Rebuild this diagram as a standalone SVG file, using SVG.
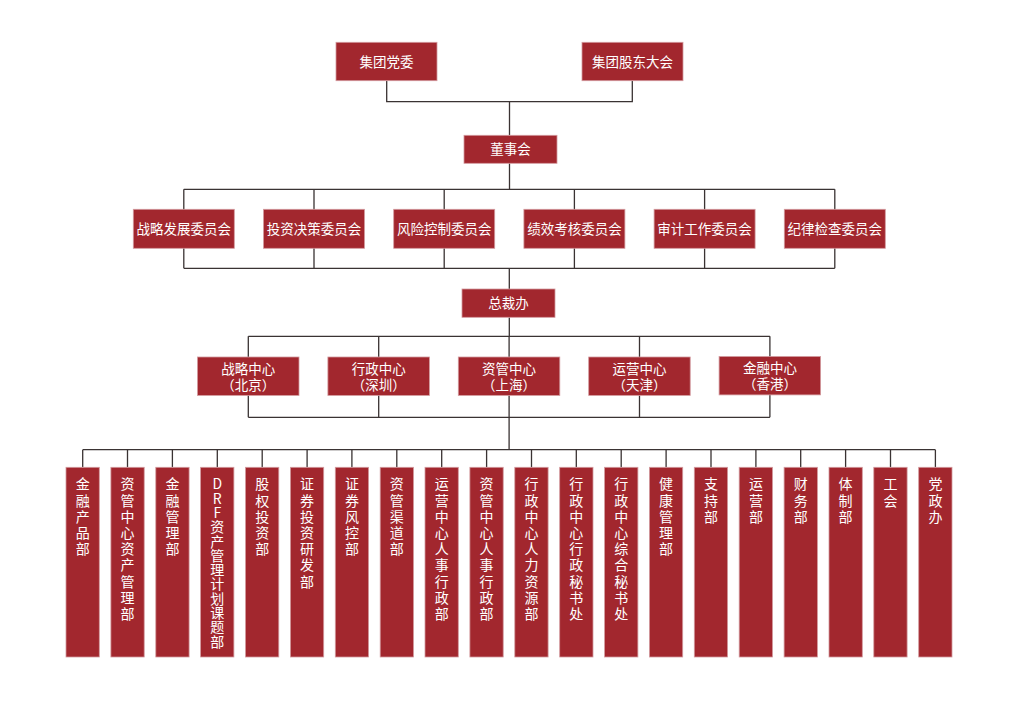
<svg xmlns="http://www.w3.org/2000/svg" width="1024" height="724" viewBox="0 0 1024 724">
<style>
.box{fill:#a2272e;stroke:#d39a9e;stroke-width:0.8}
.t{font-family:"Noto Sans CJK SC","Noto Sans",sans-serif;font-size:13.5px;fill:#ffffff;text-anchor:middle}
.d{font-family:"Noto Sans CJK SC","Noto Sans",sans-serif;font-size:14px;fill:#ffffff;writing-mode:vertical-rl;text-orientation:upright;letter-spacing:2.2px}
.drf{letter-spacing:0.3px}
.c{fill:none;stroke:#3a3333;stroke-width:1.3}
</style>
<rect width="1024" height="724" fill="#ffffff"/>
<g id="connectors" class="c">
<path d="M386.7,80.7V101.7H632.3V80.7M509.5,101.7V135.3"/>
<path d="M509.5,163.3V189.3M183.8,189.3H834.8M183.8,268.3H834.8M183.8,189.3V268.3M314,189.3V268.3M444.2,189.3V268.3M574.4,189.3V268.3M704.6,189.3V268.3M834.8,189.3V268.3"/>
<path d="M509.3,268.3V289M509.3,317.3V336.3M248.3,336.3H769.9M248.3,417.3H769.9M248.3,336.3V417.3M378.7,336.3V417.3M509.1,336.3V417.3M639.5,336.3V417.3M769.9,336.3V417.3"/>
<path d="M509.1,417.3V449.7M82.7,449.7H935.4"/>
<path d="M82.7,449.7V467.3M127.5,449.7V467.3M172.4,449.7V467.3M217.3,449.7V467.3M262.2,449.7V467.3M307.1,449.7V467.3M351.9,449.7V467.3M396.8,449.7V467.3M441.7,449.7V467.3M486.6,449.7V467.3M531.5,449.7V467.3M576.3,449.7V467.3M621.2,449.7V467.3M666.1,449.7V467.3M711,449.7V467.3M755.9,449.7V467.3M800.7,449.7V467.3M845.6,449.7V467.3M890.5,449.7V467.3M935.4,449.7V467.3"/>
</g>
<g id="n-dangwei"><rect class="box" x="336" y="42.3" width="101" height="38.4"/><text class="t" x="386.5" y="66.5">集团党委</text></g>
<g id="n-gudong"><rect class="box" x="582" y="42.3" width="101" height="38.4"/><text class="t" x="632.5" y="66.5">集团股东大会</text></g>
<g id="n-dongshihui"><rect class="box" x="464" y="135.3" width="93" height="28"/><text class="t" x="510.5" y="154">董事会</text></g>
<g id="n-zhanlue-wy"><rect class="box" x="133.3" y="209.3" width="101" height="39"/><text class="t" x="183.8" y="233.7">战略发展委员会</text></g>
<g id="n-touzi-wy"><rect class="box" x="263.5" y="209.3" width="101" height="39"/><text class="t" x="314" y="233.7">投资决策委员会</text></g>
<g id="n-fengxian-wy"><rect class="box" x="393.7" y="209.3" width="101" height="39"/><text class="t" x="444.2" y="233.7">风险控制委员会</text></g>
<g id="n-jixiao-wy"><rect class="box" x="523.9" y="209.3" width="101" height="39"/><text class="t" x="574.4" y="233.7">绩效考核委员会</text></g>
<g id="n-shenji-wy"><rect class="box" x="654.1" y="209.3" width="101" height="39"/><text class="t" x="704.6" y="233.7">审计工作委员会</text></g>
<g id="n-jilv-wy"><rect class="box" x="784.3" y="209.3" width="101" height="39"/><text class="t" x="834.8" y="233.7">纪律检查委员会</text></g>
<g id="n-zongcaiban"><rect class="box" x="462" y="289" width="93" height="28.3"/><text class="t" x="508.5" y="307.6">总裁办</text></g>
<g id="n-zhanlue-zx"><rect class="box" x="197.5" y="357" width="101.5" height="38.4"/><text class="t" x="248.3" y="373.8">战略中心<tspan x="248.3" dy="16">（北京）</tspan></text></g>
<g id="n-xingzheng-zx"><rect class="box" x="327.9" y="357" width="101.5" height="38.4"/><text class="t" x="378.7" y="373.8">行政中心<tspan x="378.7" dy="16">（深圳）</tspan></text></g>
<g id="n-ziguan-zx"><rect class="box" x="458.3" y="357" width="101.5" height="38.4"/><text class="t" x="509.1" y="373.8">资管中心<tspan x="509.1" dy="16">（上海）</tspan></text></g>
<g id="n-yunying-zx"><rect class="box" x="588.7" y="357" width="101.5" height="38.4"/><text class="t" x="639.5" y="373.8">运营中心<tspan x="639.5" dy="16">（天津）</tspan></text></g>
<g id="n-jinrong-zx"><rect class="box" x="719.1" y="356.5" width="101.5" height="38.4"/><text class="t" x="769.9" y="373.3">金融中心<tspan x="769.9" dy="16">（香港）</tspan></text></g>
<g id="d00"><rect class="box" x="66" y="467.3" width="33.3" height="189.7"/><text class="d" x="82.7" y="477">金融产品部</text></g>
<g id="d01"><rect class="box" x="110.9" y="467.3" width="33.3" height="189.7"/><text class="d" x="127.5" y="477">资管中心资产管理部</text></g>
<g id="d02"><rect class="box" x="155.8" y="467.3" width="33.3" height="189.7"/><text class="d" x="172.4" y="477">金融管理部</text></g>
<g id="d03"><rect class="box" x="200.6" y="467.3" width="33.3" height="189.7"/><text class="d drf" x="217.3" y="477">DRF资产管理计划课题部</text></g>
<g id="d04"><rect class="box" x="245.5" y="467.3" width="33.3" height="189.7"/><text class="d" x="262.2" y="477">股权投资部</text></g>
<g id="d05"><rect class="box" x="290.4" y="467.3" width="33.3" height="189.7"/><text class="d" x="307.1" y="477">证券投资研发部</text></g>
<g id="d06"><rect class="box" x="335.3" y="467.3" width="33.3" height="189.7"/><text class="d" x="351.9" y="477">证券风控部</text></g>
<g id="d07"><rect class="box" x="380.2" y="467.3" width="33.3" height="189.7"/><text class="d" x="396.8" y="477">资管渠道部</text></g>
<g id="d08"><rect class="box" x="425" y="467.3" width="33.3" height="189.7"/><text class="d" x="441.7" y="477">运营中心人事行政部</text></g>
<g id="d09"><rect class="box" x="469.9" y="467.3" width="33.3" height="189.7"/><text class="d" x="486.6" y="477">资管中心人事行政部</text></g>
<g id="d10"><rect class="box" x="514.8" y="467.3" width="33.3" height="189.7"/><text class="d" x="531.5" y="477">行政中心人力资源部</text></g>
<g id="d11"><rect class="box" x="559.7" y="467.3" width="33.3" height="189.7"/><text class="d" x="576.3" y="477">行政中心行政秘书处</text></g>
<g id="d12"><rect class="box" x="604.6" y="467.3" width="33.3" height="189.7"/><text class="d" x="621.2" y="477">行政中心综合秘书处</text></g>
<g id="d13"><rect class="box" x="649.4" y="467.3" width="33.3" height="189.7"/><text class="d" x="666.1" y="477">健康管理部</text></g>
<g id="d14"><rect class="box" x="694.3" y="467.3" width="33.3" height="189.7"/><text class="d" x="711" y="477">支持部</text></g>
<g id="d15"><rect class="box" x="739.2" y="467.3" width="33.3" height="189.7"/><text class="d" x="755.9" y="477">运营部</text></g>
<g id="d16"><rect class="box" x="784.1" y="467.3" width="33.3" height="189.7"/><text class="d" x="800.7" y="477">财务部</text></g>
<g id="d17"><rect class="box" x="829" y="467.3" width="33.3" height="189.7"/><text class="d" x="845.6" y="477">体制部</text></g>
<g id="d18"><rect class="box" x="873.8" y="467.3" width="33.3" height="189.7"/><text class="d" x="890.5" y="477">工会</text></g>
<g id="d19"><rect class="box" x="918.7" y="467.3" width="33.3" height="189.7"/><text class="d" x="935.4" y="477">党政办</text></g>
</svg>
